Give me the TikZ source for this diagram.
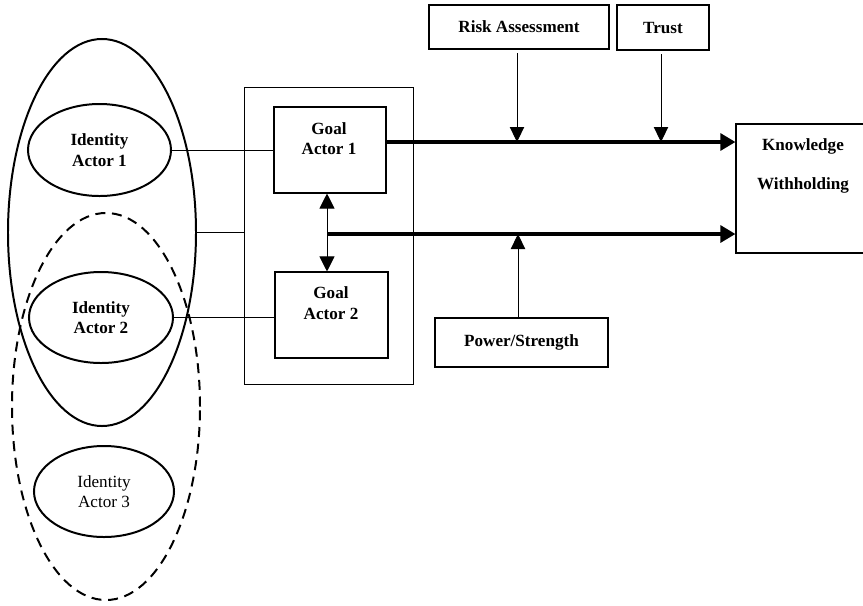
\documentclass[tikz,border=0pt]{standalone}
\usepackage{fontspec}
\setmainfont{Liberation Serif}
\usepackage{tikz}
\usetikzlibrary{shapes.geometric, positioning, arrows.meta}

\tikzset{
    txt/.style={font=\fontsize{14.6}{17.5}\selectfont\bfseries, align=center, inner sep=0pt},
    idell/.style={draw, ellipse, line width=1.7pt, inner sep=0pt, txt},
    bigell/.style={draw, ellipse, line width=1.7pt, minimum width=5.64cm, minimum height=11.61cm},
    box/.style={draw, rectangle, line width=0.9pt, inner sep=0pt},
    thin/.style={line width=0.8pt},
    thick arrow/.style={line width=3.4pt, -{Triangle[width=0.5cm,length=0.45cm]}},
    thin arrow/.style={line width=0.8pt, -{Triangle[width=0.43cm,length=0.45cm]}},
}

\begin{document}
\begin{tikzpicture}[x=0.03cm, y=-0.03cm]
    \clip (0,0) rectangle (863,605);

    % identity ellipses
    \node[bigell] (id12) at (102,232.5) {};
    \node[bigell, dashed, dash pattern=on 0.3cm off 0.2cm] (id23) at (106,406.5) {};
    \node[idell, minimum width=4.29cm, minimum height=2.76cm] (id1) at (99.5,150) {Identity\\Actor 1};
    \node[idell, minimum width=4.32cm, minimum height=2.73cm] (id2) at (101,317.5) {Identity\\Actor 2};
    \node[idell, minimum width=4.2cm, minimum height=2.73cm, font=\fontsize{14.6}{17.5}\selectfont\mdseries] (id3) at (104,491.5) {Identity\\Actor 3};

    % goals
    \node[box, minimum width=5.06cm, minimum height=8.9cm] (outer) at (328.75,235.75) {};
    \node[box, minimum width=3.36cm, minimum height=2.58cm] (g1) at (330,150) {};
    \node[box, minimum width=3.39cm, minimum height=2.58cm] (g2) at (331.5,315) {};
    \node[txt] (g1t) at (329,138.5) {Goal\\Actor 1};
    \node[txt] (g2t) at (331,303) {Goal\\Actor 2};

    % moderators and outcome
    \node[box, txt, minimum width=5.4cm, minimum height=1.32cm] (risk) at (519,27) {Risk Assessment};
    \node[box, txt, minimum width=2.76cm, minimum height=1.35cm] (trust) at (663,27.5) {Trust};
    \node[box, txt, minimum width=5.19cm, minimum height=1.47cm] (power) at (521.5,342.5) {Power/Strength};
    \node[box, minimum width=4.02cm, minimum height=3.87cm] (kw) at (803,188.5) {};
    \node[txt] (kwt) at (803,166) {Knowledge\\[16.5pt]Withholding};

    \coordinate (a1) at (386,142);
    \coordinate (j) at (327,234);

    % connectors
    \draw[thin] (id1.east) -- (id1.east -| g1.west);
    \draw[thin] (id2.east) -- (id2.east -| g2.west);
    \draw[thin] (id12.east) -- (id12.east -| outer.west);
    \draw[thin arrow, {Triangle[width=0.45cm,length=0.45cm]}-{Triangle[width=0.45cm,length=0.45cm]}] (j |- g1.south) -- (j |- g2.north);

    \draw[thick arrow] (a1) -- (a1 -| kw.west);
    \draw[thick arrow] (j) -- (j -| kw.west);

    \draw[thin arrow, shorten <=3pt] (risk.south -| 517,0) -- (517,142);
    \draw[thin arrow, shorten <=3pt] (trust.south -| 661,0) -- (661,142);
    \draw[thin arrow] (power.north -| 518,0) -- (518,234);
\end{tikzpicture}
\end{document}
